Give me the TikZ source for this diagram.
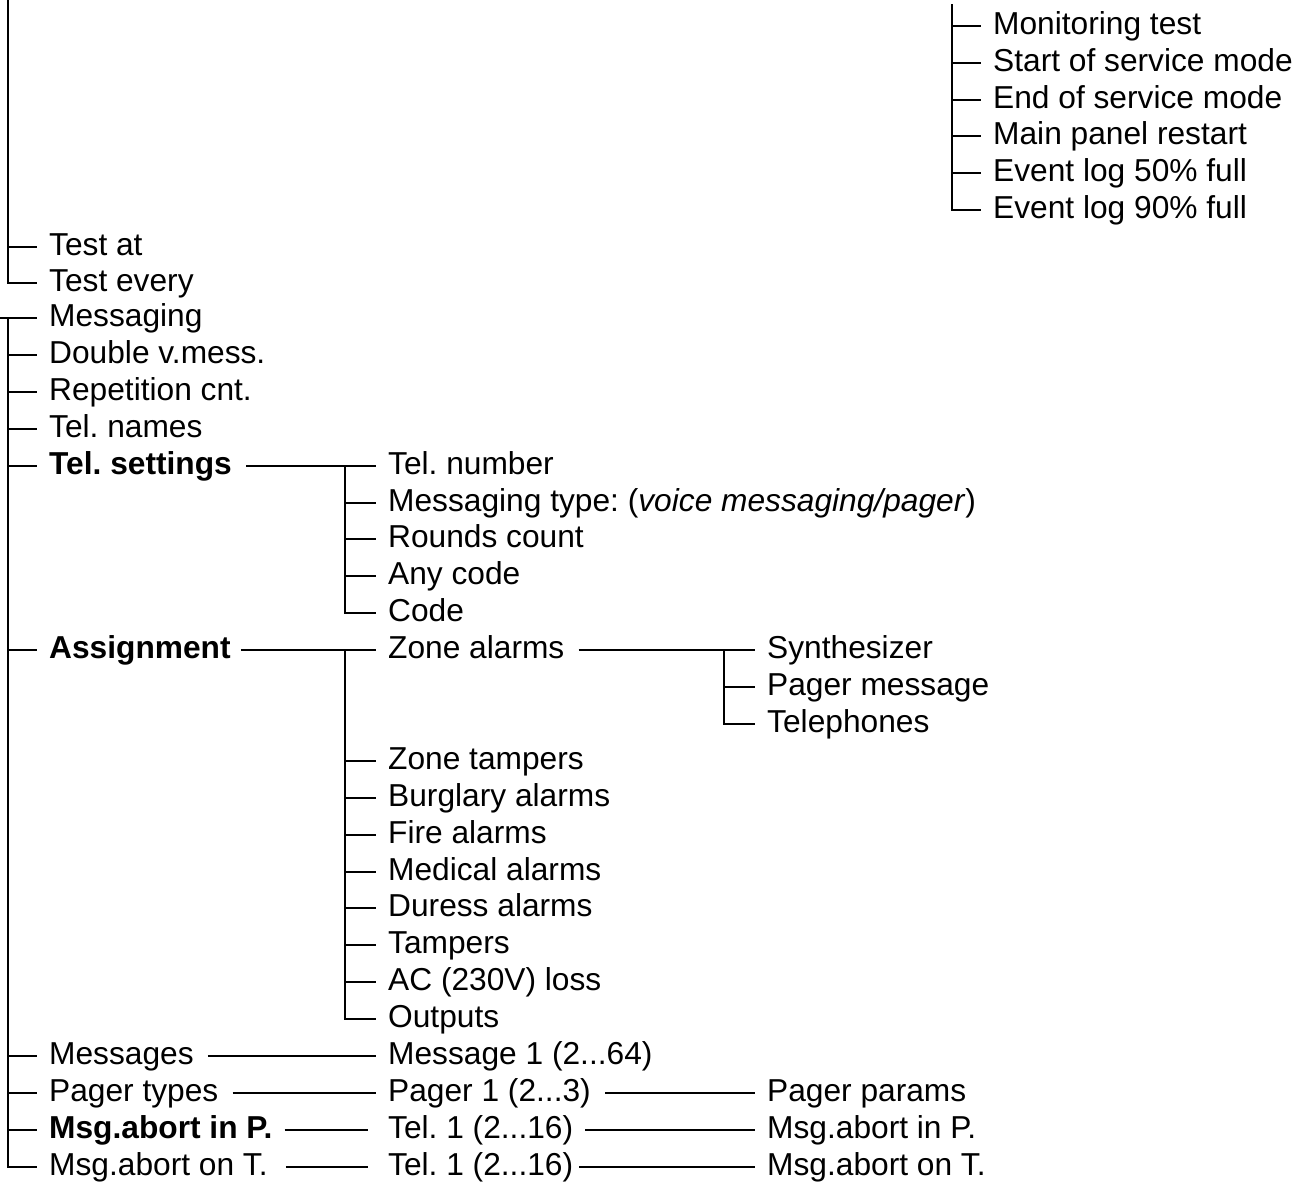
\documentclass[tikz,border=0pt]{standalone}
\usepackage{fontspec}
\setmainfont{Liberation Sans}
\usetikzlibrary{calc}
\frenchspacing
\begin{document}
\frenchspacing
\begin{tikzpicture}[x=1pt,y=-1pt,
  lbl/.style={anchor=base west, inner sep=0pt, font=\fontsize{31.7}{38}\selectfont\frenchspacing},
  ln/.style={line width=2pt}]
\useasboundingbox (0,0) rectangle (1301,1181);
% ---------- coordinates of bars
\coordinate (lledge) at (0,0);
\coordinate (bar0) at (8,0);
\coordinate (c1) at (345,0);
\coordinate (c2) at (724,0);
\coordinate (trtop) at (952,4);
\coordinate (tltop) at (8,0);
% ---------- top right list
\node[lbl] (mt) at (993,{34.5+36.75*0}) {Monitoring test};
\node[lbl] (ss) at (993,{34.5+36.75*1}) {Start of service mode};
\node[lbl] (es) at (993,{34.5+36.75*2}) {End of service mode};
\node[lbl] (mp) at (993,{34.5+36.75*3}) {Main panel restart};
\node[lbl] (e5) at (993,{34.5+36.75*4}) {Event log 50\% full};
\node[lbl] (e9) at (993,{34.5+36.75*5}) {Event log 90\% full};
% ---------- top left
\node[lbl] (ta) at (49,{34.5+36.75*6}) {Test at};
\node[lbl] (tev) at (49,{34.5+36.75*7}) {Test every};
% ---------- lower tree, column 0
\node[lbl] (msg) at (49,{326.5+36.9*0}) {Messaging};
\node[lbl] (dv) at (49,{326.5+36.9*1}) {Double v.mess.};
\node[lbl] (rc) at (49,{326.5+36.9*2}) {Repetition cnt.};
\node[lbl] (tnm) at (49,{326.5+36.9*3}) {Tel. names};
\node[lbl] (tset) at (49,{326.5+36.9*4}) {\bfseries Tel. settings};
\node[lbl] (asg) at (49,{326.5+36.9*9}) {\bfseries Assignment};
\node[lbl] (mes) at (49,{326.5+36.9*20}) {Messages};
\node[lbl] (pt) at (49,{326.5+36.9*21}) {Pager types};
\node[lbl] (map) at (49,{326.5+36.9*22}) {\bfseries Msg.abort in P.};
\node[lbl] (mat) at (49,{326.5+36.9*23}) {Msg.abort on T.};
% ---------- column 1
\node[lbl] (tnum) at (388,{326.5+36.9*4}) {Tel. number};
\node[lbl] (mtyp) at (388,{326.5+36.9*5}) {Messaging type: (\textit{voice messaging/pager})};
\node[lbl] (rnd) at (388,{326.5+36.9*6}) {Rounds count};
\node[lbl] (any) at (388,{326.5+36.9*7}) {Any code};
\node[lbl] (code) at (388,{326.5+36.9*8}) {Code};
\node[lbl] (za) at (388,{326.5+36.9*9}) {Zone alarms};
\node[lbl] (zt) at (388,{326.5+36.9*12}) {Zone tampers};
\node[lbl] (ba) at (388,{326.5+36.9*13}) {Burglary alarms};
\node[lbl] (fa) at (388,{326.5+36.9*14}) {Fire alarms};
\node[lbl] (ma) at (388,{326.5+36.9*15}) {Medical alarms};
\node[lbl] (da) at (388,{326.5+36.9*16}) {Duress alarms};
\node[lbl] (tp) at (388,{326.5+36.9*17}) {Tampers};
\node[lbl] (ac) at (388,{326.5+36.9*18}) {AC (230V) loss};
\node[lbl] (out) at (388,{326.5+36.9*19}) {Outputs};
\node[lbl] (m1) at (388,{326.5+36.9*20}) {Message 1 (2...64)};
\node[lbl] (p1) at (388,{326.5+36.9*21}) {Pager 1 (2...3)};
\node[lbl] (t1a) at (388,{326.5+36.9*22}) {Tel. 1 (2...16)};
\node[lbl] (t1b) at (388,{326.5+36.9*23}) {Tel. 1 (2...16)};
% ---------- column 2
\node[lbl] (syn) at (767,{326.5+36.9*9}) {Synthesizer};
\node[lbl] (pm) at (767,{326.5+36.9*10}) {Pager message};
\node[lbl] (tel) at (767,{326.5+36.9*11}) {Telephones};
\node[lbl] (pp) at (767,{326.5+36.9*21}) {Pager params};
\node[lbl] (mapr) at (767,{326.5+36.9*22}) {Msg.abort in P.};
\node[lbl] (matr) at (767,{326.5+36.9*23}) {Msg.abort on T.};
% ---------- branch points (left end of each label's stub)
\foreach \n in {mt,ss,es,mp,e5,e9,ta,tev,msg,dv,rc,tnm,tset,asg,mes,pt,map,mat,
  tnum,mtyp,rnd,any,code,za,zt,ba,fa,ma,da,tp,ac,out,m1,p1,t1a,t1b,
  syn,pm,tel,pp,mapr,matr}
  \coordinate (\n b) at ($(\n.base west)+(-12,-8.5)$);
% ---------- top right bar
\draw[ln] (trtop) |- (e9b);
\foreach \n in {mt,ss,es,mp,e5} \draw[ln] (\n b -| trtop) -- (\n b);
% ---------- top left bar
\draw[ln] (tltop) |- (tevb);
\draw[ln] (tab -| tltop) -- (tab);
% ---------- lower main bar
\draw[ln] (msgb -| lledge) -- (msgb);
\draw[ln] (msgb -| bar0) |- (matb);
\foreach \n in {dv,rc,tnm,tset,asg,mes,pt,map} \draw[ln] (\n b -| bar0) -- (\n b);
% ---------- Tel. settings
\draw[ln] ($(tset.base east)+(14,-8.5)$) -- (tnumb);
\draw[ln] (tnumb -| c1) |- (codeb);
\foreach \n in {mtyp,rnd,any} \draw[ln] (\n b -| c1) -- (\n b);
% ---------- Assignment
\draw[ln] ($(asg.base east)+(10,-8.5)$) -- (zab);
\draw[ln] (zab -| c1) |- (outb);
\foreach \n in {zt,ba,fa,ma,da,tp,ac} \draw[ln] (\n b -| c1) -- (\n b);
% ---------- Zone alarms
\draw[ln] ($(za.base east)+(14,-8.5)$) -- (synb);
\draw[ln] (synb -| c2) |- (telb);
\draw[ln] (pmb -| c2) -- (pmb);
% ---------- bottom rows
\draw[ln] ($(mes.base east)+(14,-8.5)$) -- (m1b);
\draw[ln] ($(pt.base east)+(14,-8.5)$) -- (p1b);
\draw[ln] ($(map.base east)+(12,-8.5)$) -- ($(t1a.base west)+(-20,-8.5)$);
\draw[ln] ($(mat.base east)+(18,-8.5)$) -- ($(t1b.base west)+(-20,-8.5)$);
\draw[ln] ($(p1.base east)+(14,-8.5)$) -- (ppb);
\draw[ln] ($(t1a.base east)+(12,-8.5)$) -- (maprb);
\draw[ln] ($(t1b.base east)+(6,-8.5)$) -- (matrb);
\end{tikzpicture}
\end{document}
